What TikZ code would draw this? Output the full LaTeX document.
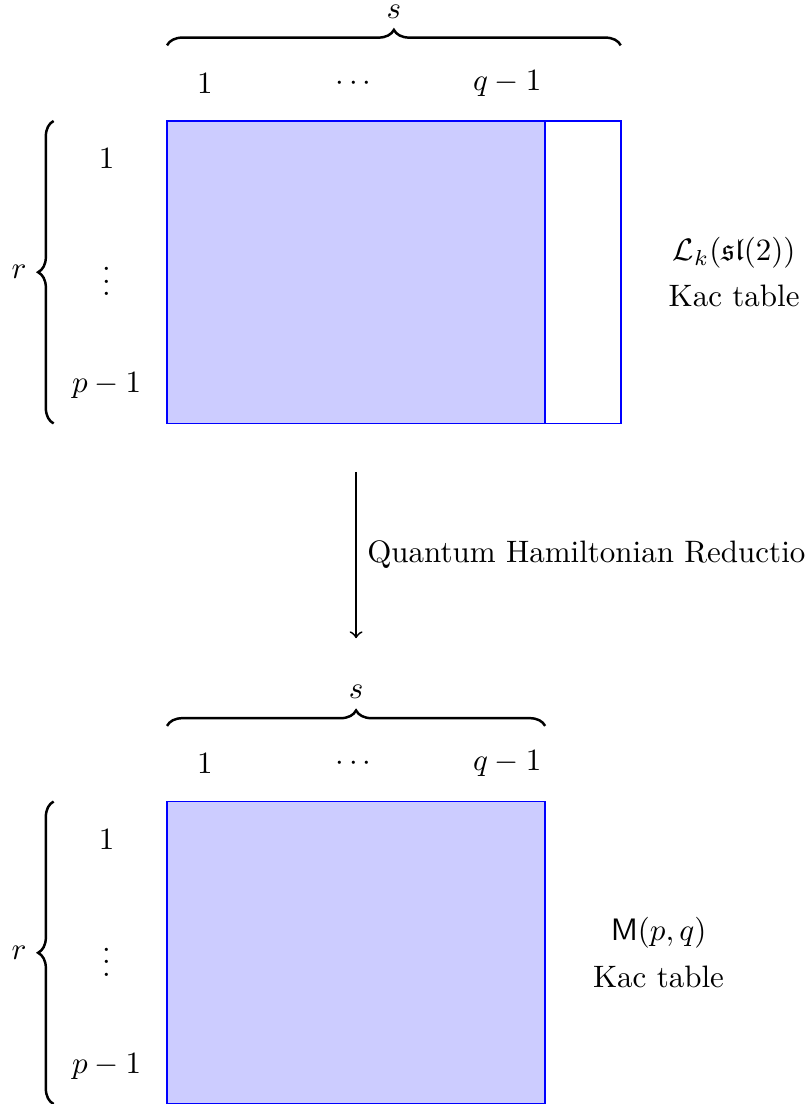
\documentclass[tikz,border=0pt]{standalone}
\usepackage{xcolor}
\usepackage{tikz}
\usepackage{amsmath}
\usepackage{amssymb}
\usetikzlibrary{decorations.pathreplacing}
\definecolor{kacblue}{HTML}{0000FF}
\definecolor{kacfill}{HTML}{CCCCFF}

\begin{document}
\begin{tikzpicture}[x=0.857cm,y=0.857cm,
  kacbrace/.style={decorate,decoration={brace,amplitude=5pt},thick},
  kacbox/.style={draw=kacblue,semithick}]
  \useasboundingbox (-2.209,1.6) rectangle (8.426,-13.0);
  \clip (-2.209,1.6) rectangle (8.426,-13.0);

  % sl(2) Kac table
  \fill[kacfill] (0,0) rectangle (5,-4);
  \draw[kacbox] (0,0) rectangle (6,-4);
  \draw[kacbox] (5,0) -- (5,-4);
  \coordinate (slsl) at (0,1);
  \coordinate (slsr) at (6,1);
  \coordinate (slrb) at (-1.5,-4);
  \coordinate (slrt) at (-1.5,0);
  \draw[kacbrace] (slsl) -- (slsr) node[midway,above=5pt] (sls) {$s$};
  \draw[kacbrace] (slrb) -- (slrt) node[midway,left=5pt] (slr) {$r$};
  \node (slc1) at (0.5,0.5) {$1$};
  \node (slcdots) at (2.5,0.5) {$\cdots$};
  \node (slcq) at (4.5,0.5) {$q-1$};
  \node (slr1) at (-0.8,-0.5) {$1$};
  \node (slrdots) at (-0.8,-2) {$\vdots$};
  \node (slrp) at (-0.8,-3.5) {$p-1$};
  \node[align=center] (sllabel) at (7.5,-2) {$\mathcal{L}_k(\mathfrak{sl}(2))$\\[3pt] Kac table};

  % reduction
  \coordinate (qhrtop) at (2.5,-4.64);
  \coordinate (qhrbot) at (2.5,-6.84);
  \draw[->,semithick] (qhrtop) -- (qhrbot) node[midway,right] (qhr) {Quantum Hamiltonian Reduction};

  % minimal model Kac table
  \fill[kacfill] (0,-9) rectangle (5,-13);
  \draw[kacbox] (0,-9) rectangle (5,-13);
  \coordinate (mmsl) at (0,-8);
  \coordinate (mmsr) at (5,-8);
  \coordinate (mmrb) at (-1.5,-13);
  \coordinate (mmrt) at (-1.5,-9);
  \draw[kacbrace] (mmsl) -- (mmsr) node[midway,above=5pt] (mms) {$s$};
  \draw[kacbrace] (mmrb) -- (mmrt) node[midway,left=5pt] (mmr) {$r$};
  \node (mmc1) at (0.5,-8.5) {$1$};
  \node (mmcdots) at (2.5,-8.5) {$\cdots$};
  \node (mmcq) at (4.5,-8.5) {$q-1$};
  \node (mmr1) at (-0.8,-9.5) {$1$};
  \node (mmrdots) at (-0.8,-11) {$\vdots$};
  \node (mmrp) at (-0.8,-12.5) {$p-1$};
  \node[align=center] (mmlabel) at (6.5,-11) {$\mathsf{M}(p,q)$\\[3pt] Kac table};
\end{tikzpicture}
\end{document}
